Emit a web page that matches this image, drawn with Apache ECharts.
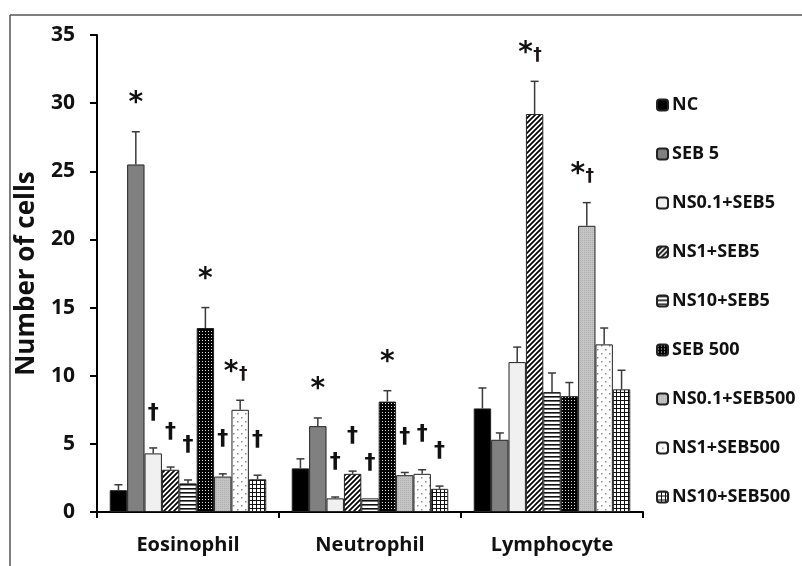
<!DOCTYPE html>
<html>
<head>
<meta charset="utf-8">
<script src="https://cdn.jsdelivr.net/npm/echarts@6/dist/echarts.min.js"></script>
<style>
  html, body { margin: 0; padding: 0; background: #fff; }
  #chart { width: 802px; height: 566px; }
</style>
</head>
<body>
<div id="chart"></div>
<script>
// ---------------- DATA ----------------
const categories = ['Eosinophil', 'Neutrophil', 'Lymphocyte'];
const seriesNames = ['NC', 'SEB 5', 'NS0.1+SEB5', 'NS1+SEB5', 'NS10+SEB5', 'SEB 500', 'NS0.1+SEB500', 'NS1+SEB500', 'NS10+SEB500'];

const ncValues        = [1.6, 3.2, 7.6];
const seb5Values      = [25.5, 6.3, 5.3];
const ns01seb5Values  = [4.3, 1.0, 11.0];
const ns1seb5Values   = [3.1, 2.8, 29.2];
const ns10seb5Values  = [2.1, 1.0, 8.8];
const seb500Values    = [13.5, 8.1, 8.5];
const ns01seb500Values = [2.6, 2.7, 21.0];
const ns1seb500Values  = [7.5, 2.8, 12.3];
const ns10seb500Values = [2.4, 1.7, 9.0];

const ncErr        = [0.4, 0.7, 1.5];
const seb5Err      = [2.4, 0.6, 0.5];
const ns01seb5Err  = [0.4, 0.1, 1.1];
const ns1seb5Err   = [0.2, 0.2, 2.4];
const ns10seb5Err  = [0.25, 0, 1.4];
const seb500Err    = [1.5, 0.8, 1.0];
const ns01seb500Err = [0.2, 0.2, 1.7];
const ns1seb500Err  = [0.7, 0.3, 1.2];
const ns10seb500Err = [0.3, 0.2, 1.4];

const ncMarks        = ['', '', ''];
const seb5Marks      = ['*', '*', ''];
const ns01seb5Marks  = ['†', '†', ''];
const ns1seb5Marks   = ['†', '†', '*†'];
const ns10seb5Marks  = ['†', '†', ''];
const seb500Marks    = ['*', '*', ''];
const ns01seb500Marks = ['†', '†', '*†'];
const ns1seb500Marks  = ['*†', '†', ''];
const ns10seb500Marks = ['†', '†', ''];

const yTicks = [0, 5, 10, 15, 20, 25, 30, 35];

const allValues = [ncValues, seb5Values, ns01seb5Values, ns1seb5Values, ns10seb5Values, seb500Values, ns01seb500Values, ns1seb500Values, ns10seb500Values];
const allErr = [ncErr, seb5Err, ns01seb5Err, ns1seb5Err, ns10seb5Err, seb500Err, ns01seb500Err, ns1seb500Err, ns10seb500Err];
const allMarks = [ncMarks, seb5Marks, ns01seb5Marks, ns1seb5Marks, ns10seb5Marks, seb500Marks, ns01seb500Marks, ns1seb500Marks, ns10seb500Marks];

// ---------------- STYLES ----------------
function pattern(w, h, draw) {
  const c = document.createElement('canvas');
  c.width = w; c.height = h;
  const ctx = c.getContext('2d');
  draw(ctx, w, h);
  return { image: c, repeat: 'repeat' };
}
const fills = [
  '#000000',
  '#808080',
  '#f0f0f0',
  pattern(5, 5, (ctx, w, h) => {
    ctx.fillStyle = '#fff'; ctx.fillRect(0, 0, w, h);
    ctx.strokeStyle = '#000'; ctx.lineWidth = 1.7;
    ctx.beginPath();
    ctx.moveTo(-1, h + 1); ctx.lineTo(w + 1, -1);
    ctx.moveTo(-1 - w, h + 1); ctx.lineTo(1, -1);
    ctx.moveTo(w - 1, h + 1); ctx.lineTo(2 * w + 1, -1);
    ctx.stroke();
  }),
  pattern(4, 4, (ctx, w, h) => {
    ctx.fillStyle = '#fff'; ctx.fillRect(0, 0, w, h);
    ctx.fillStyle = '#111'; ctx.fillRect(0, 0, w, 1.6);
  }),
  pattern(3, 3, (ctx, w, h) => {
    ctx.fillStyle = '#000'; ctx.fillRect(0, 0, w, h);
    ctx.fillStyle = '#e0e0e0'; ctx.fillRect(1, 1, 1, 1);
  }),
  pattern(2, 2, (ctx, w, h) => {
    ctx.fillStyle = '#c4c4c4'; ctx.fillRect(0, 0, w, h);
    ctx.fillStyle = '#b0b0b0'; ctx.fillRect(0, 0, 1, 1);
  }),
  pattern(8, 8, (ctx, w, h) => {
    ctx.fillStyle = '#fff'; ctx.fillRect(0, 0, w, h);
    ctx.fillStyle = '#8a8a8a'; ctx.fillRect(1, 1, 1.5, 1.5); ctx.fillRect(5, 5, 1.5, 1.5);
  }),
  pattern(4, 4, (ctx, w, h) => {
    ctx.fillStyle = '#fff'; ctx.fillRect(0, 0, w, h);
    ctx.fillStyle = '#111'; ctx.fillRect(0, 0, w, 1); ctx.fillRect(0, 0, 1, h);
  })
];

const GAP = 0.14;
const FONT = '"Open Sans"';

function errRenderer(idx) {
  return function (params, api) {
    const cat = api.value(0), val = api.value(1), err = api.value(2);
    const base = api.coord([cat, val]);
    const top = api.coord([cat, val + err]);
    const catW = api.size([1, 0])[0];
    const groupW = catW * (1 - GAP);
    const bw = groupW / seriesNames.length;
    const x = base[0] - groupW / 2 + (idx + 0.5) * bw;
    const children = [];
    if (err > 0) {
      children.push({ type: 'line', shape: { x1: x, y1: base[1], x2: x, y2: top[1] }, style: { stroke: '#3a3a3a', lineWidth: 1.5 } });
      children.push({ type: 'line', shape: { x1: x - 4, y1: top[1], x2: x + 4, y2: top[1] }, style: { stroke: '#3a3a3a', lineWidth: 1.5 } });
    }
    const mark = allMarks[idx][params.dataIndex];
    const my = top[1] - 35;
    if (mark === '*') {
      children.push({ type: 'text', style: { text: '*', x: x, y: my + 7, font: 'bold 28px "DejaVu Sans"', fill: '#111', align: 'center', verticalAlign: 'middle' } });
    } else if (mark === '†') {
      children.push({ type: 'text', style: { text: '†', x: x, y: my, font: 'bold 22px "DejaVu Sans"', fill: '#111', align: 'center', verticalAlign: 'middle' } });
    } else if (mark === '*†') {
      children.push({ type: 'text', style: { text: '*', x: x - 9, y: my + 7, font: 'bold 28px "DejaVu Sans"', fill: '#111', align: 'center', verticalAlign: 'middle' } });
      children.push({ type: 'text', style: { text: '†', x: x + 3, y: my + 9, font: 'bold 17px "DejaVu Sans"', fill: '#1a1416', align: 'center', verticalAlign: 'middle' } });
    }
    return { type: 'group', children: children };
  };
}

const series = [];
seriesNames.forEach((name, i) => {
  series.push({
    name: name,
    type: 'bar',
    data: allValues[i],
    barGap: '0%',
    barCategoryGap: (GAP * 100) + '%',
    itemStyle: { color: fills[i], borderColor: '#222', borderWidth: 1 },
    emphasis: { disabled: true },
    z: 2
  });
});
seriesNames.forEach((name, i) => {
  series.push({
    name: name + ' err',
    type: 'custom',
    renderItem: errRenderer(i),
    data: categories.map((c, k) => [k, allValues[i][k], allErr[i][k]]),
    z: 5,
    silent: true
  });
});

const chart = echarts.init(document.getElementById('chart'), null, { renderer: 'canvas' });
chart.setOption({
  animation: false,
  backgroundColor: '#fff',
  graphic: [
    { type: 'line', shape: { x1: 10, y1: 15, x2: 802, y2: 15 }, style: { stroke: '#555', lineWidth: 1.5 } },
    { type: 'line', shape: { x1: 10, y1: 15, x2: 10, y2: 566 }, style: { stroke: '#555', lineWidth: 1.5 } }
  ],
  grid: { left: 97, right: 159, top: 35, bottom: 54, containLabel: false },
  legend: {
    data: seriesNames,
    orient: 'vertical',
    left: 651,
    top: 90,
    itemWidth: 11,
    itemHeight: 11,
    itemGap: 29,
    textStyle: { fontFamily: FONT, fontWeight: 'bold', fontSize: 18, color: '#111', lineHeight: 20, padding: [0, 0, 0, -1] },
    selectedMode: false
  },
  xAxis: {
    type: 'category',
    data: categories,
    axisLine: { lineStyle: { color: '#000', width: 2 } },
    axisTick: { show: true, length: 6, lineStyle: { color: '#000', width: 2 } },
    axisLabel: { fontFamily: FONT, fontWeight: 'bold', fontSize: 20, color: '#111', margin: 23 }
  },
  yAxis: {
    type: 'value',
    min: 0, max: 35, interval: 5,
    name: 'Number of cells',
    nameLocation: 'middle',
    nameGap: 55,
    nameTextStyle: { fontFamily: FONT, fontWeight: 'bold', fontSize: 26, color: '#111' },
    axisLine: { show: true, lineStyle: { color: '#000', width: 2 } },
    axisTick: { show: true, length: 7, lineStyle: { color: '#000', width: 2 } },
    splitLine: { show: false },
    axisLabel: { fontFamily: FONT, fontWeight: 'bold', fontSize: 21, color: '#111', margin: 22,
      formatter: v => (yTicks.indexOf(v) >= 0 ? String(v) : '') }
  },
  series: series
});
</script>
</body>
</html>
